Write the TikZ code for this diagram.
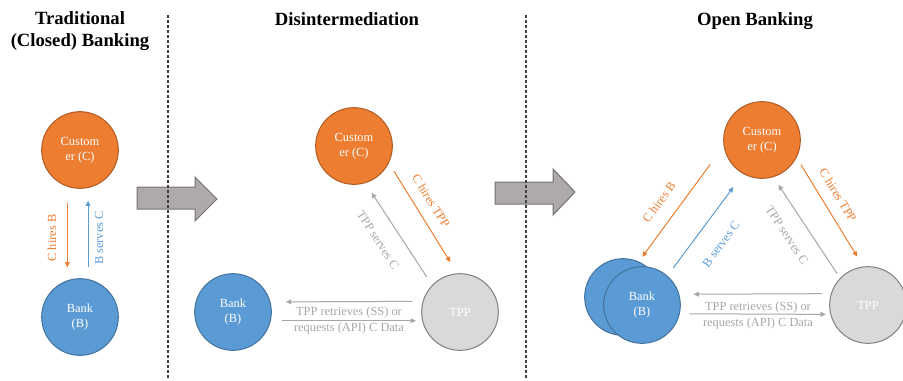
\documentclass[tikz,border=0pt]{standalone}
\usepackage{fontspec}
\setmainfont{Liberation Serif}
\usetikzlibrary{arrows.meta}

\definecolor{custorange}{HTML}{ED7D31}
\definecolor{custedge}{HTML}{AE5A21}
\definecolor{bankblue}{HTML}{5B9BD5}
\definecolor{bankedge}{HTML}{41719C}
\definecolor{tppfill}{HTML}{D9D9D9}
\definecolor{tppedge}{HTML}{7F7F7F}
\definecolor{labelgray}{HTML}{A6A6A6}
\definecolor{blockfill}{HTML}{AEAAAA}
\definecolor{blockedge}{HTML}{767171}
\definecolor{divgray}{HTML}{404040}

\tikzset{every picture/.style={line width=0.75pt}}
\tikzset{
  party/.style={circle, minimum size=57.5pt, inner sep=0pt, text=white, align=center, font=\fontsize{9.3}{11.25}\selectfont},
  custnode/.style={party, fill=custorange, draw=custedge},
  banknode/.style={party, fill=bankblue, draw=bankedge},
  tppnode/.style={party, fill=tppfill, draw=tppedge},
  titlenode/.style={align=center, font=\fontsize{14}{16.5}\selectfont\bfseries},
  lbl/.style={align=center, inner sep=0pt, font=\fontsize{9.3}{12}\selectfont},
  flow/.style={-{Triangle[length=4pt,width=3.5pt]}, line width=0.75pt},
  orangearr/.style={flow, draw=custorange},
  bluearr/.style={flow, draw=bankblue},
  grayarr/.style={flow, draw=labelgray},
  blockarr/.style={fill=blockfill, draw=blockedge, line width=0.75pt},
  divider/.style={draw=divgray, line width=0.9pt, dash pattern=on 2.25pt off 1.5pt}
}

\begin{document}
\begin{tikzpicture}[x=0.75pt,y=0.75pt,yscale=-1,xscale=1]
\useasboundingbox (0,0) rectangle (903,380);

% block arrows between the stages
\draw [blockarr] (137,187) -- (195,187) -- (195,177) -- (217,199) -- (195,221) -- (195,209) -- (137,209) -- cycle ;
\draw [blockarr] (495,182) -- (553,182) -- (553,169) -- (575,192) -- (553,215) -- (553,204) -- (495,204) -- cycle ;

% dividers
\draw [divider] (168,15) -- (168,380) ;
\draw [divider] (526,15) -- (526,380) ;

% titles
\node (titletrad) at (80,31) [titlenode] {Traditional\\(Closed) Banking};
\node (titledis) at (347,25) [titlenode, anchor=base] {Disintermediation};
\node (titleopen) at (755,25) [titlenode, anchor=base] {Open Banking};

% traditional
\node (cust1) at (80,150) [custnode] {Custom\\er (C)};
\node (bank1) at (80,317) [banknode] {Bank\\(B)};
\draw [orangearr, shorten <=11.9pt, shorten >=9.6pt] (cust1.-109.7) -- (bank1.109.7) ;
\draw [bluearr, shorten <=9.2pt, shorten >=9.5pt] (bank1.78) -- (cust1.-78) ;
\node (hire1) at (52,238) [lbl, text=custorange, rotate=90] {C hires B};
\node (serve1) at (99,238) [lbl, text=bankblue, rotate=90] {B serves C};

% disintermediation
\node (cust2) at (354,146) [custnode] {Custom\\er (C)};
\node (bank2) at (233,312) [banknode] {Bank\\(B)};
\node (tpp2) at (460,312) [tppnode] {TPP};
\draw [orangearr, shorten <=7.1pt, shorten >=9.8pt] (cust2.-26.5) -- (tpp2.94.7) ;
\draw [grayarr, shorten <=7.2pt, shorten >=8.55pt] (tpp2.136.9) -- (cust2.-73.5) ;
\draw [grayarr, shorten <=7.7pt, shorten >=11.5pt] (tpp2.164.7) -- (bank2.15.3) ;
\draw [grayarr, shorten <=8.3pt, shorten >=4.6pt] (bank2.-13.7) -- (tpp2.193.7) ;
\node (hire2) at (431,201) [lbl, text=custorange, rotate=-58] {C hires TPP};
\node (serve2) at (378,240) [lbl, text=labelgray, rotate=-57] {TPP serves C};
\node (data2) at (349,321) [lbl, text=labelgray] {TPP retrieves (SS) or\\requests (API) C Data};

% open banking
\node (bankback) at (623,297) [banknode] {};
\node (bank3) at (642,305) [banknode] {Bank\\(B)};
\node (cust3) at (762,140) [custnode] {Custom\\er (C)};
\node (tpp3) at (868,305) [tppnode] {TPP};
\draw [orangearr, shorten <=17.1pt, shorten >=4.4pt] (cust3.189.8) -- (bankback.66.3) ;
\draw [bluearr, shorten <=7.35pt, shorten >=12.2pt] (bank3.49.1) -- (cust3.-119.7) ;
\draw [grayarr, shorten <=4.1pt, shorten >=6.8pt] (tpp3.136.7) -- (cust3.-73.6) ;
\draw [orangearr, shorten <=6.25pt, shorten >=8.6pt] (cust3.-27.3) -- (tpp3.97.5) ;
\draw [grayarr, shorten <=6.8pt, shorten >=10.6pt] (tpp3.163.4) -- (bank3.16.6) ;
\draw [grayarr, shorten <=7.2pt, shorten >=3.4pt] (bank3.-13.5) -- (tpp3.-166.5) ;
\node (hire3b) at (659,202) [lbl, text=custorange, rotate=53.5] {C hires B};
\node (serve3b) at (721,244) [lbl, text=bankblue, rotate=53.5] {B serves C};
\node (serve3t) at (787,235) [lbl, text=labelgray, rotate=-56.5] {TPP serves C};
\node (hire3t) at (838,195) [lbl, text=custorange, rotate=-58.7] {C hires TPP};
\node (data3) at (758,316) [lbl, text=labelgray] {TPP retrieves (SS) or\\requests (API) C Data};

\end{tikzpicture}
\end{document}
